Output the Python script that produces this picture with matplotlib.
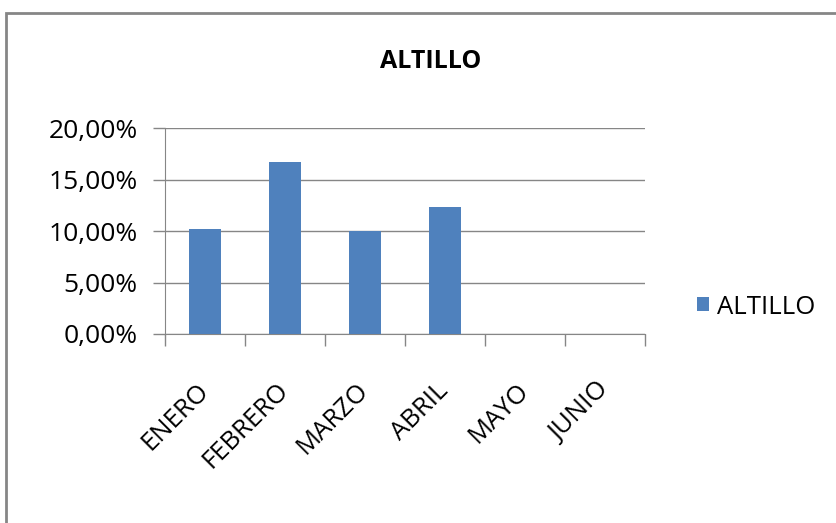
import matplotlib.pyplot as plt
from matplotlib.patches import Rectangle
from matplotlib.ticker import FuncFormatter

months = ['ENERO', 'FEBRERO', 'MARZO', 'ABRIL', 'MAYO', 'JUNIO']
altillo = [10.2, 16.75, 10.0, 12.3, 0, 0]  # percent

plt.rcParams['font.family'] = ['Open Sans', 'DejaVu Sans']

fig = plt.figure(figsize=(8.37, 5.23), dpi=100)
ax = fig.add_axes([0.1971, 0.3614, 0.5735, 0.3933])

x = range(len(months))
ax.bar(x, altillo, width=0.41, color='#4F81BD', zorder=3, label='ALTILLO')

ax.set_xlim(-0.5, len(months) - 0.5)
ax.set_ylim(0, 20)
ax.set_yticks([0, 5, 10, 15, 20])
ax.yaxis.set_major_formatter(FuncFormatter(lambda v, p: '{:.2f}%'.format(v).replace('.', ',')))
ax.grid(axis='y', color='#868686', lw=1, zorder=0)

# category boundaries as ticks, names centred between them
ax.set_xticks([i - 0.5 for i in range(len(months) + 1)])
ax.set_xticklabels([])
ax.set_xticks(list(x), minor=True)
ax.set_xticklabels(months, minor=True, rotation=45, ha='right', va='center',
                   rotation_mode='anchor', fontsize=18.5)
ax.tick_params(axis='x', which='minor', length=0, pad=38)
ax.tick_params(axis='x', which='major', length=8.6, color='#868686', width=1)
ax.tick_params(axis='y', length=8.6, color='#868686', width=1, labelsize=19, pad=11)

for s in ['top', 'right']:
    ax.spines[s].set_visible(False)
for s in ['left', 'bottom']:
    ax.spines[s].set_color('#868686')

fig.text(0.514, 0.882, 'ALTILLO', ha='center', va='center', fontsize=18, fontweight='bold')

fig.legend(*ax.get_legend_handles_labels(), loc='center left',
           bbox_to_anchor=(697 / 837, 1 - 307 / 523), bbox_transform=fig.transFigure,
           frameon=False, fontsize=18.5, borderpad=0, borderaxespad=0,
           handlelength=0.47, handleheight=0.47, handletextpad=0.31)

fig.patches.append(Rectangle((6 / 837, -0.1), 1.2, 1 - 13 / 523 + 0.1, fill=False,
                             edgecolor='#868686', lw=2, transform=fig.transFigure))

fig.savefig('out.png', dpi=100)
